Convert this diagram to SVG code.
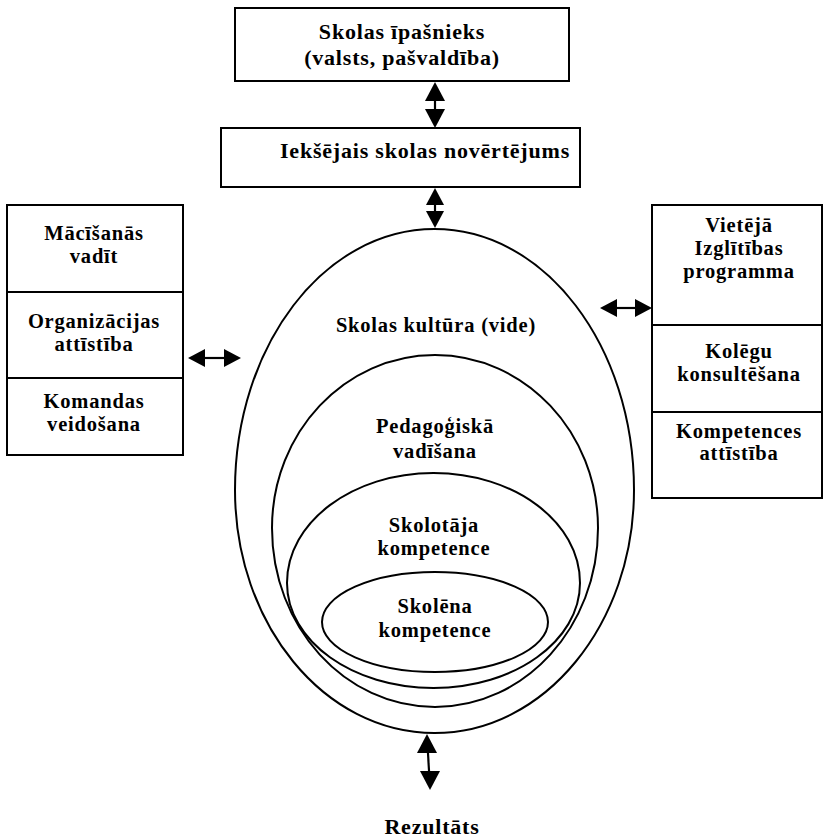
<svg xmlns="http://www.w3.org/2000/svg" width="830" height="839" viewBox="0 0 830 839">
  <style>
    .box { fill: #fff; stroke: #000; stroke-width: 2; }
    .ring { fill: none; stroke: #000; stroke-width: 2; }
    .div { stroke: #000; stroke-width: 2; }
    .lbl { font-family: "Liberation Serif", "Times New Roman", serif; font-weight: bold; fill: #000; text-anchor: middle; letter-spacing: 0.8px; }
    .big { font-size: 22px; }
    .mid { font-size: 20.5px; }
    .shaft { stroke: #000; stroke-width: 2.2; fill: none; }
    .tip { fill: #000; stroke: none; }
  </style>
  <rect width="830" height="839" fill="#fff"/>

  <!-- owner -->
  <g id="owner">
    <rect class="box" x="235" y="8" width="334" height="73"/>
    <text class="lbl big" x="402" y="39">Skolas īpašnieks</text>
    <text class="lbl big" x="402" y="65">(valsts, pašvaldība)</text>
  </g>

  <!-- internal evaluation -->
  <g id="evaluation">
    <rect class="box" x="221" y="128" width="359" height="59"/>
    <text class="lbl big" x="425" y="158">Iekšējais skolas novērtējums</text>
  </g>

  <!-- left column -->
  <g id="left-column">
    <rect class="box" x="7" y="205" width="176" height="250"/>
    <line class="div" x1="7" y1="292" x2="183" y2="292"/>
    <line class="div" x1="7" y1="378" x2="183" y2="378"/>
    <text class="lbl mid" x="94" y="240">Mācīšanās</text>
    <text class="lbl mid" x="94" y="263">vadīt</text>
    <text class="lbl mid" x="94" y="328">Organizācijas</text>
    <text class="lbl mid" x="94" y="351">attīstība</text>
    <text class="lbl mid" x="94" y="408">Komandas</text>
    <text class="lbl mid" x="94" y="431">veidošana</text>
  </g>

  <!-- right column -->
  <g id="right-column">
    <rect class="box" x="652" y="205" width="170" height="293"/>
    <line class="div" x1="652" y1="325" x2="822" y2="325"/>
    <line class="div" x1="652" y1="412" x2="822" y2="412"/>
    <text class="lbl mid" x="739" y="232">Vietējā</text>
    <text class="lbl mid" x="739" y="255">Izglītības</text>
    <text class="lbl mid" x="739" y="278">programma</text>
    <text class="lbl mid" x="739" y="358">Kolēgu</text>
    <text class="lbl mid" x="739" y="381">konsultēšana</text>
    <text class="lbl mid" x="739" y="438">Kompetences</text>
    <text class="lbl mid" x="739" y="460">attīstība</text>
  </g>

  <!-- nested circles of the school -->
  <g id="culture">
    <path class="ring" d="M434.5,229 C544.9,229 634,346 634,490 C634,624 544.9,733 434.5,733 C324.1,733 235,624 235,490 C235,346 324.1,229 434.5,229 Z"/>
    <text class="lbl mid" x="436" y="332">Skolas kultūra (vide)</text>
  </g>
  <g id="leadership">
    <path class="ring" d="M435,355 C525,355 598,432.5 598,528 C598,627 525,707 435,707 C345,707 272,627 272,528 C272,432.5 345,355 435,355 Z"/>
    <text class="lbl mid" x="435" y="433">Pedagoģiskā</text>
    <text class="lbl mid" x="435" y="458">vadīšana</text>
  </g>
  <g id="teacher">
    <path class="ring" d="M433.5,473 C514.4,473 580,522 580,583 C580,641 514.4,688 433.5,688 C352.6,688 287,641 287,583 C287,522 352.6,473 433.5,473 Z"/>
    <text class="lbl mid" x="434" y="532">Skolotāja</text>
    <text class="lbl mid" x="434" y="555">kompetence</text>
  </g>
  <g id="pupil">
    <ellipse class="ring" cx="435" cy="622" rx="113" ry="50"/>
    <text class="lbl mid" x="435" y="613">Skolēna</text>
    <text class="lbl mid" x="435" y="637">kompetence</text>
  </g>

  <g id="result">
    <text class="lbl big" x="432" y="834">Rezultāts</text>
  </g>

  <!-- two-way connectors: shaft plus a filled head at each end -->
  <g id="connectors">
    <!-- owner <-> evaluation -->
    <line class="shaft" x1="435" y1="98" x2="435" y2="112"/>
    <polygon class="tip" points="435,82 445,101 425,101"/>
    <polygon class="tip" points="435,128 445,109 425,109"/>
    <!-- evaluation <-> culture -->
    <line class="shaft" x1="435" y1="202" x2="435" y2="214"/>
    <polygon class="tip" points="435,188 444,205 426,205"/>
    <polygon class="tip" points="435,228 444,211 426,211"/>
    <!-- left column <-> culture -->
    <line class="shaft" x1="202" y1="358" x2="227" y2="358"/>
    <polygon class="tip" points="188,358 205,349 205,367"/>
    <polygon class="tip" points="241,358 224,349 224,367"/>
    <!-- culture <-> right column -->
    <line class="shaft" x1="614" y1="308" x2="638" y2="308"/>
    <polygon class="tip" points="600,308 617,299 617,317"/>
    <polygon class="tip" points="652,308 635,299 635,317"/>
    <!-- culture <-> result -->
    <line class="shaft" x1="427.8" y1="750" x2="429.2" y2="774"/>
    <polygon class="tip" points="427,734 437,753 417,753"/>
    <polygon class="tip" points="430,790 440,771 420,771"/>
  </g>
</svg>
